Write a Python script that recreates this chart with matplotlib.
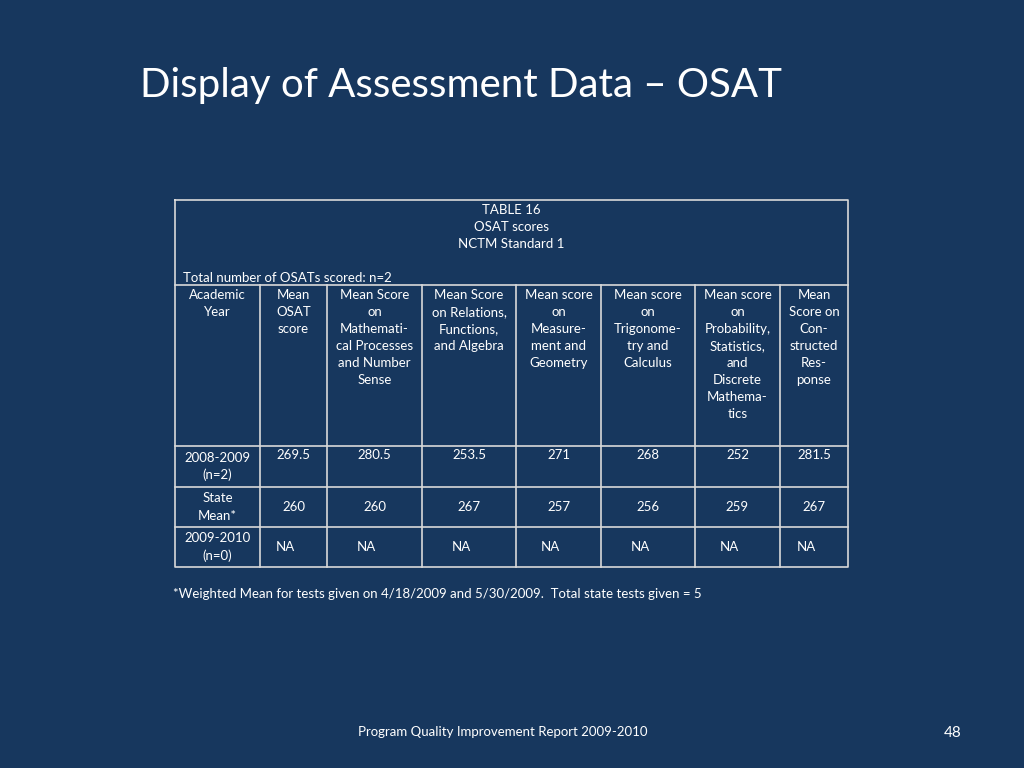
import matplotlib
matplotlib.use("Agg")
import matplotlib.pyplot as plt

title = "Display of Assessment Data \u2013 OSAT"
table_caption = ["TABLE 16", "OSAT scores", "NCTM Standard 1"]
total_note = "Total number of OSATs scored: n=2"
col_headers = [
    ["Academic", "Year"],
    ["Mean", "OSAT", "score"],
    ["Mean Score", "on", "Mathemati-", "cal Processes", "and Number", "Sense"],
    ["Mean Score", "on Relations,", "Functions,", "and Algebra"],
    ["Mean score", "on", "Measure-", "ment and", "Geometry"],
    ["Mean score", "on", "Trigonome-", "try and", "Calculus"],
    ["Mean score", "on", "Probability,", "Statistics,", "and", "Discrete", "Mathema-", "tics"],
    ["Mean", "Score on", "Con-", "structed", "Res-", "ponse"],
]
row_labels = [["2008-2009", "(n=2)"], ["State", "Mean*"], ["2009-2010", "(n=0)"]]
row_2008 = ["269.5", "280.5", "253.5", "271", "268", "252", "281.5"]
row_state = ["260", "260", "267", "257", "256", "259", "267"]
row_2010 = ["NA", "NA", "NA", "NA", "NA", "NA", "NA"]
footnote = "*Weighted Mean for tests given on 4/18/2009 and 5/30/2009.  Total state tests given = 5"
footer = "Program Quality Improvement Report 2009-2010"
page = "48"

bg = "#17375e"
fig = plt.figure(figsize=(10.24, 7.68), dpi=100, facecolor=bg)
ax = fig.add_axes([0, 0, 1, 1])
ax.set_xlim(0, 1024); ax.set_ylim(768, 0); ax.axis("off")
ax.set_facecolor(bg)
F = "Lato"
fs = 9.5
lh = 17

ax.text(140, 86, title, color="white", fontsize=29, family=F, va="center", ha="left")

xs = [175, 260, 327, 422, 516, 601, 695, 780, 848]
ys = [285, 446, 487, 527, 567]
lc = "#d9d9d9"
ax.plot([175, 848, 848, 175, 175], [200, 200, 567, 567, 200], color=lc, lw=1.2)
for y in ys[:-1]:
    ax.plot([175, 848], [y, y], color=lc, lw=1.2)
for x in xs[1:-1]:
    ax.plot([x, x], [285, 567], color=lc, lw=1.2)

for i, s in enumerate(table_caption):
    ax.text(511, 210 + i * lh, s, color="white", fontsize=fs, family=F, ha="center", va="center")
ax.text(183, 278, total_note, color="white", fontsize=fs, family=F, ha="left", va="center")

centers = [(xs[i] + xs[i + 1]) / 2 for i in range(8)]
for c, lines in zip(centers, col_headers):
    for j, s in enumerate(lines):
        ax.text(c, 295 + j * lh, s, color="white", fontsize=fs, family=F, ha="center", va="center")

# row labels
for (r0, r1), lines in zip(zip(ys[1:], ys[2:]), row_labels):
    mid = (r0 + r1) / 2
    for j, s in enumerate(lines):
        ax.text(centers[0], mid - lh / 2 + j * lh, s, color="white", fontsize=fs, family=F, ha="center", va="center")

for c, v in zip(centers[1:], row_2008):
    ax.text(c, 455, v, color="white", fontsize=fs, family=F, ha="center", va="center")
for c, v in zip(centers[1:], row_state):
    ax.text(c, 507, v, color="white", fontsize=fs, family=F, ha="center", va="center")
for c, v in zip(centers[1:], row_2010):
    ax.text(c - 8, 547, v, color="white", fontsize=fs, family=F, ha="center", va="center")

ax.text(173, 594, footnote, color="white", fontsize=fs, family=F, ha="left", va="center")
ax.text(503, 732, footer, color="white", fontsize=fs, family=F, ha="center", va="center")
ax.text(953, 733, page, color="white", fontsize=11, family=F, ha="center", va="center")

fig.savefig("out.png", dpi=100, facecolor=bg)
